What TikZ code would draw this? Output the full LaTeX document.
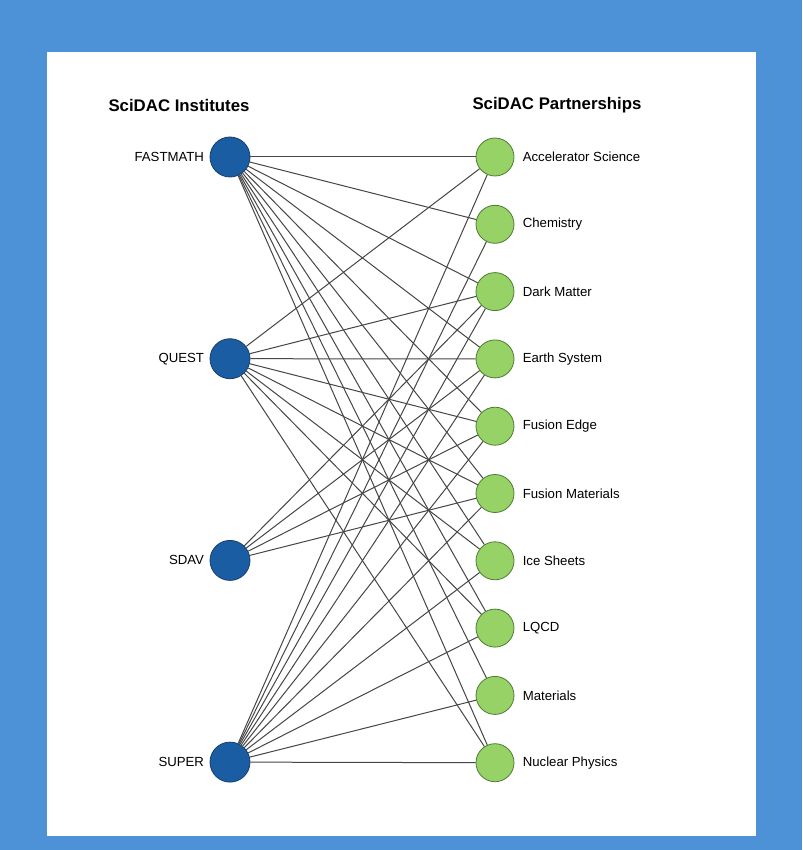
\documentclass[tikz,border=0pt]{standalone}
\usepackage{fontspec}
\setmainfont{Liberation Sans}
\usetikzlibrary{positioning}

\definecolor{pageblue}{RGB}{77,146,215}
\definecolor{instblue}{RGB}{26,93,163}
\definecolor{instrim}{RGB}{22,62,112}
\definecolor{partgreen}{RGB}{150,210,102}
\definecolor{partrim}{RGB}{78,124,52}
\definecolor{linkgray}{RGB}{70,70,70}

\begin{document}
\begin{tikzpicture}[x=0.5pt, y=-0.5pt,
	instnode/.style={circle, draw=instrim, fill=instblue, thin, minimum size=20pt, inner sep=0pt},
	partnode/.style={circle, draw=partrim, fill=partgreen, thin, minimum size=19pt, inner sep=0pt},
	namelabel/.style={font=\fontsize{6.6}{8}\selectfont, inner sep=0pt},
	headlabel/.style={font=\fontsize{8.4}{10}\selectfont\bfseries, inner sep=0pt},
	link/.style={draw=linkgray, line width=0.5pt},
	]
	%Background
	\fill[pageblue] (0,0) rectangle (802,850);
	\fill[white] (47,52) rectangle (756,836);
	
	%Headings
	\node[headlabel] (hinst) at (179,105) {SciDAC Institutes};
	\node[headlabel] (hpart) at (557,105) {SciDAC Partnerships};
	
	%Institutes
	\node[instnode] (fastmath) at (230,157) {};
	\node[instnode] (quest)    [below=80.45pt of fastmath] {};
	\node[instnode] (sdav)     [below=80.45pt of quest]    {};
	\node[instnode] (super)    [below=80.45pt of sdav]     {};
	
	%Partnerships
	\node[partnode] (accel)   at (495,157) {};
	\node[partnode] (chem)    [below=14.25pt of accel] {};
	\node[partnode] (darkm)   [below=14.25pt of chem]  {};
	\node[partnode] (earth)   [below=14.25pt of darkm] {};
	\node[partnode] (fedge)   [below=14.25pt of earth] {};
	\node[partnode] (fmat)    [below=14.25pt of fedge] {};
	\node[partnode] (ice)     [below=14.25pt of fmat]  {};
	\node[partnode] (lqcd)    [below=14.25pt of ice]   {};
	\node[partnode] (mat)     [below=14.25pt of lqcd]  {};
	\node[partnode] (nuclear) [below=14.25pt of mat]   {};
	
	%Labels
	\node[namelabel] (lfastmath) [left=2.6pt of fastmath] {FASTMATH};
	\node[namelabel] (lquest)    [left=2.6pt of quest]    {QUEST};
	\node[namelabel] (lsdav)     [left=2.6pt of sdav]     {SDAV};
	\node[namelabel] (lsuper)    [left=2.6pt of super]    {SUPER};
	\node[namelabel] (laccel)   [right=4pt of accel]   {Accelerator Science};
	\node[namelabel] (lchem)    [right=4pt of chem]    {Chemistry};
	\node[namelabel] (ldarkm)   [right=4pt of darkm]   {Dark Matter};
	\node[namelabel] (learth)   [right=4pt of earth]   {Earth System};
	\node[namelabel] (lfedge)   [right=4pt of fedge]   {Fusion Edge};
	\node[namelabel] (lfmat)    [right=4pt of fmat]    {Fusion Materials};
	\node[namelabel] (lice)     [right=4pt of ice]     {Ice Sheets};
	\node[namelabel] (llqcd)    [right=4pt of lqcd]    {LQCD};
	\node[namelabel] (lmat)     [right=4pt of mat]     {Materials};
	\node[namelabel] (lnuclear) [right=4pt of nuclear] {Nuclear Physics};
	
	%Links FASTMATH
	\draw[link] (fastmath) -- (accel);
	\draw[link] (fastmath) -- (chem);
	\draw[link] (fastmath) -- (darkm);
	\draw[link] (fastmath) -- (earth);
	\draw[link] (fastmath) -- (fedge);
	\draw[link] (fastmath) -- (fmat);
	\draw[link] (fastmath) -- (ice);
	\draw[link] (fastmath) -- (lqcd);
	\draw[link] (fastmath) -- (mat);
	\draw[link] (fastmath) -- (nuclear);
	
	%Links QUEST
	\draw[link] (quest) -- (accel);
	\draw[link] (quest) -- (darkm);
	\draw[link] (quest) -- (earth);
	\draw[link] (quest) -- (fedge);
	\draw[link] (quest) -- (fmat);
	\draw[link] (quest) -- (ice);
	\draw[link] (quest) -- (lqcd);
	\draw[link] (quest) -- (nuclear);
	
	%Links SDAV
	\draw[link] (sdav) -- (darkm);
	\draw[link] (sdav) -- (earth);
	\draw[link] (sdav) -- (fedge);
	\draw[link] (sdav) -- (fmat);
	
	%Links SUPER
	\draw[link] (super) -- (accel);
	\draw[link] (super) -- (chem);
	\draw[link] (super) -- (darkm);
	\draw[link] (super) -- (earth);
	\draw[link] (super) -- (fedge);
	\draw[link] (super) -- (fmat);
	\draw[link] (super) -- (ice);
	\draw[link] (super) -- (lqcd);
	\draw[link] (super) -- (mat);
	\draw[link] (super) -- (nuclear);
\end{tikzpicture}
\end{document}
